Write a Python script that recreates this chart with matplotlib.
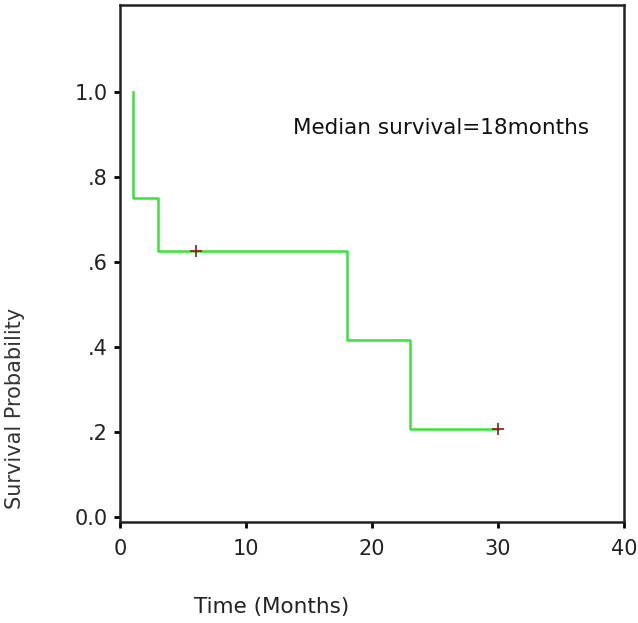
import matplotlib
matplotlib.use("Agg")
from matplotlib import pyplot as plt

# step curve (time in months, survival probability)
step_times = [1, 1, 3, 18, 23, 30]
step_surv = [1.0, 0.75, 0.625, 0.417, 0.208, 0.208]
censor_times = [6, 30]
censor_surv = [0.625, 0.208]
y_ticks = [0.0, 0.2, 0.4, 0.6, 0.8, 1.0]
y_tick_labels = ["0.0", ".2", ".4", ".6", ".8", "1.0"]
x_ticks = [0, 10, 20, 30, 40]

plt.rcParams["font.family"] = ["DejaVu Sans"]

fig = plt.figure(figsize=(6.38, 6.23), dpi=100)
ax = fig.add_axes([0.188, 0.162, 0.79, 0.830])

ax.step(step_times, step_surv, where="post", color="#3ee03e", lw=1.8)
ax.plot(censor_times, censor_surv, "+", color="#8b1a1a", ms=9, mew=1.2)

ax.set_xlim(0, 40)
ax.set_ylim(-0.012, 1.205)
ax.set_xticks(x_ticks)
ax.set_xticklabels([str(t) for t in x_ticks], fontsize=15, color="#222222")
ax.set_yticks(y_ticks)
ax.set_yticklabels(y_tick_labels, fontsize=15, color="#222222")
ax.tick_params(axis="x", length=4, width=2, pad=8)
ax.tick_params(axis="y", length=4, width=2, pad=5)

for s in ax.spines.values():
    s.set_linewidth(1.8)
    s.set_color("#222222")

ax.text(13.7, 0.915, "Median survival=18months", fontsize=15.5, color="#111111", va="center")

fig.text(0.425, 0.026, "Time (Months)", fontsize=15.5, ha="center", va="center", color="#222222")
fig.text(0.024, 0.345, "Survival Probability", fontsize=15, rotation=90, ha="center", va="center", color="#333333")

fig.savefig("out.png", dpi=100)
